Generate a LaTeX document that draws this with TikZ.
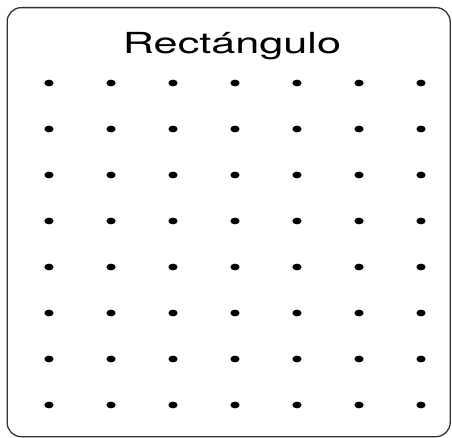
\documentclass[tikz,border=0pt]{standalone}
\usepackage{fontspec}
\setmainfont{TeX Gyre Heros}
\begin{document}
\begin{tikzpicture}[x=1pt,y=-1pt,
  frame/.style={draw=black!80,line width=1.3pt,rounded corners=14pt},
  dotmark/.style={fill=black,draw=none},
  titletext/.style={font=\fontsize{29}{34}\selectfont,xscale=1.49,inner sep=0pt,anchor=base}]
\useasboundingbox (0,0) rectangle (452,438);
\node[frame,minimum width=443pt,minimum height=429pt,anchor=north west] (box) at (6.5,7) {};
\node[titletext] (title) at (232,54) {Rectángulo};
\foreach \i in {0,...,6}{
  \foreach \j in {0,...,7}{
    \fill[dotmark] ({49+62*\i},{83+46*\j}) ellipse [x radius=4.6, y radius=3.4];
  }
}
\end{tikzpicture}
\end{document}
